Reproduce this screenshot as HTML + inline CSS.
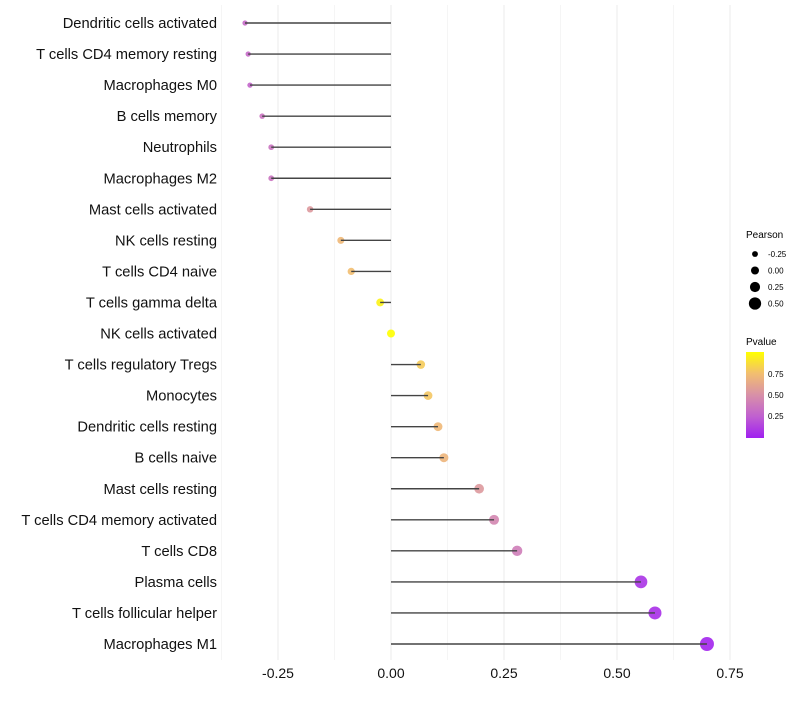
<!DOCTYPE html>
<html><head><meta charset="utf-8"><style>
body{margin:0;background:#fff;font-family:"Liberation Sans",sans-serif}
</style></head><body>
<svg id="chart" width="800" height="700" font-family="Liberation Sans, sans-serif">
<g id="grid"></g><g id="marks"></g><g id="labels"></g>
<g>
<text x="746" y="238" font-size="10" fill="#000">Pearson</text>
<g id="sizeleg"></g>
<text x="746" y="345" font-size="10" fill="#000">Pvalue</text>
<defs><linearGradient id="pg" x1="0" y1="1" x2="0" y2="0">
<stop offset="0" stop-color="#A020F0"/><stop offset="0.25" stop-color="#C060D0"/><stop offset="0.5" stop-color="#D890A8"/><stop offset="0.75" stop-color="#F2BE70"/><stop offset="1" stop-color="#FFFF00"/></linearGradient></defs>
<rect x="746" y="352" width="18" height="86" fill="url(#pg)"/>
<g font-size="8" fill="#000">
<text x="768" y="377">0.75</text><text x="768" y="398">0.50</text><text x="768" y="419">0.25</text></g>
</g>
</svg>
<script>
const categories=["Dendritic cells activated","T cells CD4 memory resting","Macrophages M0","B cells memory","Neutrophils","Macrophages M2","Mast cells activated","NK cells resting","T cells CD4 naive","T cells gamma delta","NK cells activated","T cells regulatory  Tregs ","Monocytes","Dendritic cells resting","B cells naive","Mast cells resting","T cells CD4 memory activated","T cells CD8","Plasma cells","T cells follicular helper","Macrophages M1"];
const pearson=[-0.323,-0.316,-0.312,-0.285,-0.265,-0.265,-0.179,-0.111,-0.088,-0.024,0.0,0.066,0.082,0.104,0.117,0.195,0.228,0.279,0.553,0.584,0.699];
const pvalue=[0.3,0.3,0.28,0.35,0.35,0.35,0.55,0.72,0.75,0.95,1.0,0.8,0.78,0.72,0.7,0.55,0.45,0.4,0.08,0.06,0.02];
const xTicks=[-0.25,0,0.25,0.5,0.75];
const xTickLabels=["-0.25","0.00","0.25","0.50","0.75"];
const sizeLegend=[-0.25,0,0.25,0.5];
const sizeLegendLabels=["-0.25","0.00","0.25","0.50"];
const NS="http://www.w3.org/2000/svg";
const x=v=>391+v*452;
const y=i=>23+i*31.05;
const r=v=>4+4.3*v;
const stops=[[0,[160,32,240]],[0.25,[192,96,208]],[0.5,[216,144,168]],[0.75,[242,190,112]],[1,[255,255,0]]];
function col(p){for(let k=1;k<stops.length;k++){if(p<=stops[k][0]){const a=stops[k-1],b=stops[k];const t=(p-a[0])/(b[0]-a[0]);return 'rgb('+a[1].map((c,j)=>Math.round(c+(b[1][j]-c)*t)).join(',')+')';}}return 'rgb(255,255,0)';}
function mk(t,at,parent){const e=document.createElementNS(NS,t);for(const k in at)e.setAttribute(k,at[k]);parent.appendChild(e);return e;}
const grid=document.getElementById('grid'),marks=document.getElementById('marks'),labels=document.getElementById('labels');
for(let v=-0.375;v<=0.76;v+=0.125){const l=mk('line',{x1:x(v),x2:x(v),y1:5,y2:660,stroke:Math.abs(v*4-Math.round(v*4))<1e-6?'#ebebeb':'#f5f5f5','stroke-width':1},grid);

}
xTicks.forEach((v,i)=>{const t=mk('text',{x:x(v),y:678,'font-size':14,'text-anchor':'middle',fill:'#111'},labels);t.textContent=xTickLabels[i];

});
categories.forEach((c,i)=>{
const t=mk('text',{x:217,y:y(i)+5,'font-size':14.7,'text-anchor':'end',fill:'#111','xml:space':'preserve'},labels);t.textContent=c;


const ci=mk('circle',{cx:x(pearson[i]),cy:y(i),r:r(pearson[i]),fill:col(pvalue[i]),'fill-opacity':0.9},marks);


const ln=mk('line',{x1:x(0),x2:x(pearson[i]),y1:y(i),y2:y(i),stroke:'#444','stroke-width':1.4},marks);


});
const sl=document.getElementById('sizeleg');
sizeLegend.forEach((v,i)=>{const cy=254+i*16.5;
const c=mk('circle',{cx:755,cy:cy,r:r(v),fill:'#000'},sl);


const t=mk('text',{x:768,y:cy+3,'font-size':8,fill:'#000'},sl);t.textContent=sizeLegendLabels[i];

});
</script>
</body></html>
